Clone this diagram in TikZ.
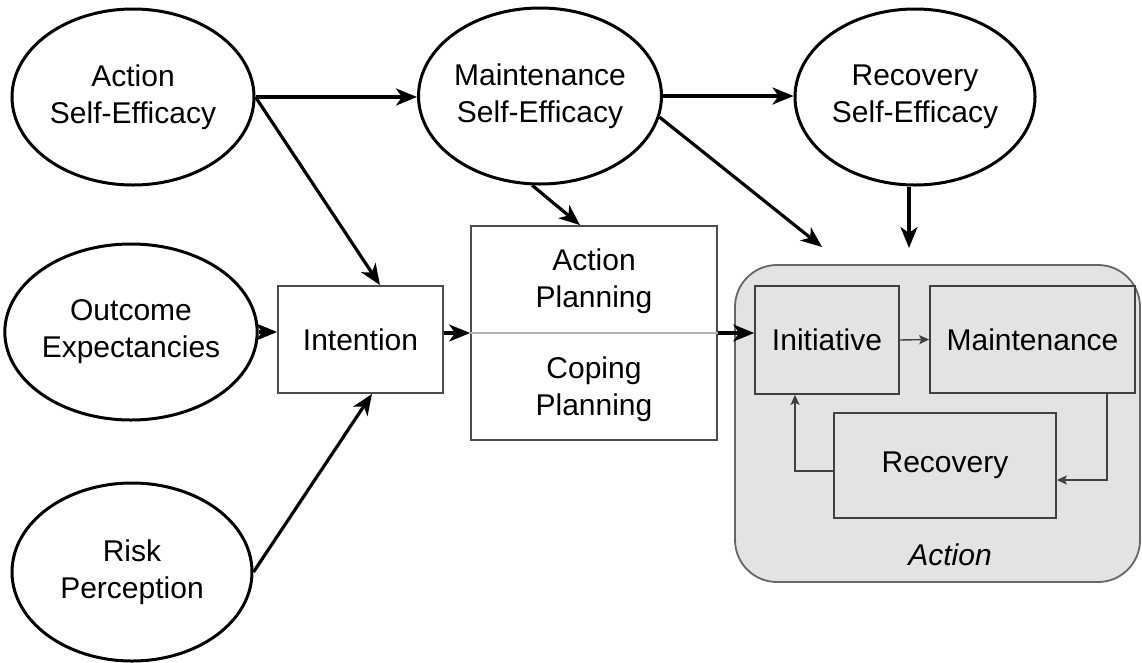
\documentclass[tikz,border=0pt]{standalone}
\usepackage{fontspec}
\setmainfont{Liberation Sans}
\usetikzlibrary{shapes.geometric,arrows.meta,calc}
\begin{document}
\begin{tikzpicture}[x=1pt,y=-1pt,
  every node/.style={font=\fontsize{30}{37}\selectfont, align=center, inner sep=0pt},
  oval/.style={ellipse, draw=black, line width=3pt, fill=white},
  whitebox/.style={rectangle, draw=black!70, line width=1.8pt, fill=white},
  innerbox/.style={rectangle, draw=black!75, line width=1.6pt, fill=gray!22},
  arr/.style={line width=3.2pt, -{Stealth[length=21pt,width=17pt,inset=6pt]}},
  thinarr/.style={line width=1.4pt, draw=black!75, -{Stealth[length=10pt,width=9pt,inset=2pt]}}
]
\useasboundingbox (0,0) rectangle (1142,662);

% Action container
\node[rectangle, draw=black!60, line width=1.8pt, fill=gray!22, rounded corners=42pt,
      minimum width=405pt, minimum height=317pt] (actbox) at (937.5,423.5) {};
\node[font=\fontsize{30}{37}\selectfont\itshape] (actlabel) at (950,555) {Action};

% Ellipses
\node[oval, minimum width=242pt, minimum height=176pt] (ase) at (133,97) {Action\\Self-Efficacy};
\node[oval, minimum width=240pt, minimum height=176pt] (mse) at (540,96) {Maintenance\\Self-Efficacy};
\node[oval, minimum width=240pt, minimum height=176pt] (rse) at (915,97) {Recovery\\Self-Efficacy};
\node[oval, minimum width=238pt, minimum height=176pt] (oe) at (131,332) {Outcome\\Expectancies};
\node[oval, minimum width=240pt, minimum height=178pt] (rp) at (132,572) {Risk\\Perception};

% Boxes
\node[whitebox, minimum width=165pt, minimum height=107pt] (int) at (360.5,339.5) {Intention};
\node[whitebox, minimum width=246pt, minimum height=214pt] (plan) at (594,333) {};
\node (ap) at (594,281) {Action\\Planning};
\node (cp) at (594,389) {Coping\\Planning};
\draw[draw=black!30, line width=1.2pt] (plan.west) -- (plan.east);

% Inner boxes
\node[innerbox, minimum width=144pt, minimum height=108pt] (init) at (827,340) {Initiative};
\node[innerbox, minimum width=205pt, minimum height=107pt] (maint) at (1032.5,339.5) {Maintenance};
\node[innerbox, minimum width=222pt, minimum height=105pt] (rec) at (945,465.5) {Recovery};

% Free ends
\coordinate (m1) at (822,247);
\coordinate (r1) at (909,248);

% Connectors
\draw[arr] (ase.east) -- (ase.east -| mse.west);
\draw[arr] (ase.east) -- ($(int.north)+(19.5,0)$);
\draw[arr] (oe.east) -- (oe.east -| int.west);
\draw[arr] (rp.east) -- ($(int.south)+(11.5,0)$);
\draw[arr] (plan.west -| int.east) -- (plan.west);
\draw[arr] (plan.east) -- (plan.east -| init.west);
\draw[arr] (mse.east) -- (mse.east -| rse.west);
\draw[arr] (mse.-95) -- ($(plan.north)+(-14,0)$);
\draw[arr] (mse.-10) -- (m1);
\draw[arr] (rse.south -| r1) -- (r1);

\draw[thinarr] (init.east) -- (maint.west);
\draw[thinarr] ($(maint.south)+(74.5,0)$) |- ($(rec.east)+(0,14.5)$);
\draw[thinarr] ($(rec.west)+(0,5.5)$) -| ($(init.south)+(-32,0)$);
\end{tikzpicture}
\end{document}
